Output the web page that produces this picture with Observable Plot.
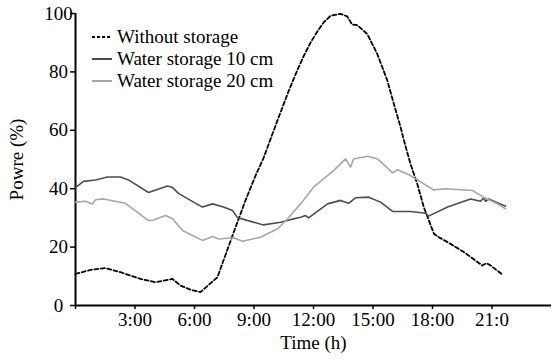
<!DOCTYPE html>
<html><head><meta charset="utf-8">
<script src="https://cdn.jsdelivr.net/npm/d3@7"></script>
<script src="https://cdn.jsdelivr.net/npm/@observablehq/plot@0.6"></script>
<style>
body{margin:0;background:#fff;}
#wrap{position:relative;width:552px;height:360px;font-family:"Liberation Serif","Times New Roman",serif;}
#legend{position:absolute;left:92px;top:26px;font-size:19px;line-height:22px;color:#000;}
.row{display:flex;align-items:center;height:22px;white-space:nowrap}
.row svg{margin-right:5px}
</style></head><body><div id="wrap"><div id="legend"></div></div>
<script>
const seriesNames = ["Without storage", "Water storage 10 cm", "Water storage 20 cm"];
const seriesColors = ["#000000", "#4d4d4d", "#a6a6a6"];
const seriesDash = ["4,2.5", null, null];

const timeWithout = [0,0.76,1.51,2.27,3.28,4.03,4.89,5.30,5.80,6.30,7.16,7.46,8.07,8.57,9.08,9.48,10.19,10.75,11.18,11.51,11.85,12.19,12.52,12.86,13.36,13.70,13.95,14.21,14.71,15.21,15.72,16.05,16.39,16.56,16.89,17.23,17.56,17.82,18.07,18.32,18.91,19.58,20.51,20.73,20.93,21.52];
const valWithout = [10.8,12.2,12.8,11.4,9.1,8.0,9.1,6.8,5.4,4.6,9.7,15.4,26.8,36.0,44.5,50.5,63.5,73.5,80.5,85.5,90.0,93.8,97.0,99.2,99.9,99.0,96.2,96.0,93.0,86.2,77.1,69.1,61.1,56.5,48.5,41.7,33.7,29.1,24.6,23.4,21.1,18.3,13.7,14.5,13.7,10.6];

const time10 = [0,0.40,1.01,1.61,2.27,2.67,3.68,4.64,4.89,5.19,5.80,6.40,6.91,7.46,7.92,8.17,9.48,10.34,10.84,11.35,11.60,11.75,12.71,13.36,13.77,14.12,14.78,15.38,15.99,16.89,17.65,17.80,18.76,19.92,20.42,20.57,20.68,20.83,21.68];
const val10 = [40.4,42.5,43.0,44.0,44.0,43.0,38.7,40.9,40.4,38.4,36.0,33.7,34.8,33.7,32.5,30.1,27.6,28.5,29.4,30.2,30.8,30.0,34.8,36.0,35.0,36.9,37.1,35.4,32.2,32.2,31.6,30.6,33.7,36.5,35.7,36.8,35.7,36.5,34.0];

const time20 = [0,0.50,0.86,1.01,1.41,2.52,3.68,3.93,4.54,4.89,5.40,5.80,6.40,6.91,7.21,7.97,8.42,9.33,10.19,10.69,11.35,12.00,13.01,13.62,13.87,14.02,14.73,15.23,15.99,16.24,16.89,17.15,18.05,18.66,20.02,20.57,21.28,21.68];
const val20 = [35.4,35.7,34.8,36.2,36.5,35.0,29.1,29.3,30.8,29.7,25.7,24.3,22.3,23.6,22.8,23.2,22.0,23.4,26.3,29.7,34.8,40.5,46.2,50.2,47.4,50.2,51.1,50.2,45.4,46.5,44.5,43.4,39.6,40.0,39.4,37.1,34.8,33.1];

const xTicks = [0,3,6,9,12,15,18,21];
const xTickLabels = ["","3:00","6:00","9:00","12:00","15:00","18:00","21:0"];
const yTicks = [0,20,40,60,80,100];

const allTimes = [timeWithout, time10, time20];
const allVals = [valWithout, val10, val20];
const tables = allTimes.map((ts, k) => ts.map((t, i) => ({t, v: allVals[k][i], series: seriesNames[k]})));

const lineMarks = tables.map((tb, k) => Plot.line(tb, {
  x: "t", y: "v", stroke: seriesColors[k],
  strokeWidth: k === 0 ? 1.8 : 1.6,
  strokeDasharray: seriesDash[k] || undefined,
  strokeLinejoin: "round"
}));

const chart = Plot.plot({
  width: 552, height: 360,
  marginLeft: 75, marginRight: 1, marginTop: 13, marginBottom: 55,
  style: {fontFamily: "Liberation Serif", fontSize: "19px", color: "#000", background: "#fff"},
  x: {domain: [0, 24]},
  y: {domain: [0, 100]},
  marks: [
    Plot.axisY({ticks: yTicks, tickSize: 5, tickPadding: 12, textAnchor: "middle", strokeWidth: 1.5,
      label: "Powre (%)", labelAnchor: "center", labelOffset: 66, labelArrow: "none", fontSize: 19}),
    Plot.axisX({ticks: xTicks, tickSize: 4, tickPadding: 3, strokeWidth: 1.5,
      tickFormat: d => xTickLabels[xTicks.indexOf(d)],
      label: "Time (h)", labelAnchor: "center", labelOffset: 43, labelArrow: "none", fontSize: 19}),
    Plot.ruleX([0], {y1: 0, y2: 100, strokeWidth: 2}),
    Plot.ruleY([0], {strokeWidth: 2}),
    ...lineMarks
  ]
});
document.getElementById("wrap").prepend(chart);

const legend = document.getElementById("legend");
seriesNames.forEach((name, k) => {
  const row = document.createElement("div");
  row.className = "row";
  row.innerHTML = `<svg width="20" height="6"><line x1="0" y1="3" x2="20" y2="3" stroke="${seriesColors[k]}" stroke-width="2" ${seriesDash[k] ? `stroke-dasharray="3,2"` : ""}/></svg><span>${name}</span>`;
  legend.appendChild(row);
});
</script>
</body></html>
